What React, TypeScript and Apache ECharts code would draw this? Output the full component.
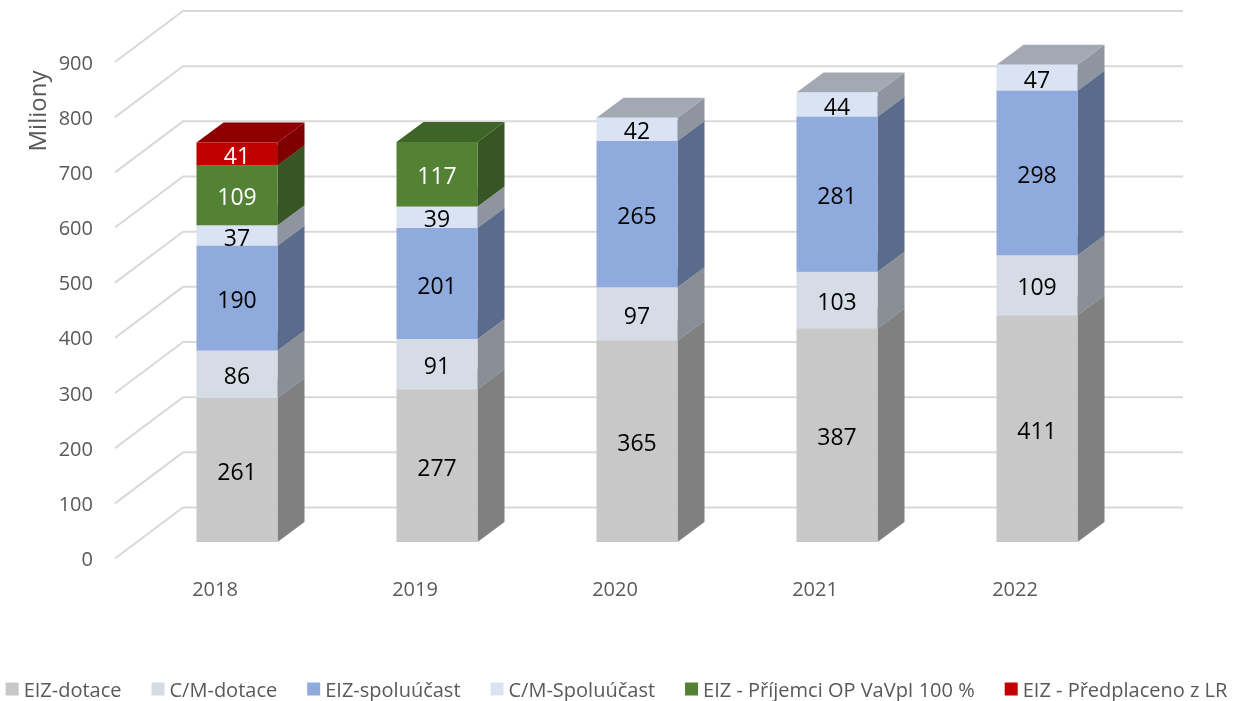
import React, { useEffect, useRef } from "react";
import * as echarts from "echarts";

const years = ["2018", "2019", "2020", "2021", "2022"];
const yTicks = [0, 100, 200, 300, 400, 500, 600, 700, 800, 900];

const seriesNames = [
  "EIZ-dotace",
  "C/M-dotace",
  "EIZ-spoluúčast",
  "C/M-Spoluúčast",
  "EIZ - Příjemci OP VaVpI 100 %",
  "EIZ - Předplaceno z LR",
];

const eizDotace = [261, 277, 365, 387, 411];
const cmDotace = [86, 91, 97, 103, 109];
const eizSpoluucast = [190, 201, 265, 281, 298];
const cmSpoluucast = [37, 39, 42, 44, 47];
const eizPrijemci = [109, 117, null, null, null];
const eizPredplaceno = [41, null, null, null, null];

const seriesValues = [eizDotace, cmDotace, eizSpoluucast, cmSpoluucast, eizPrijemci, eizPredplaceno];

const frontColors = ["#C8C8C8", "#D6DCE5", "#8FAADC", "#DAE3F3", "#548235", "#C00000"];
const sideColors = ["#808080", "#8A8F97", "#5B6B8C", "#8E959F", "#375623", "#7E0000"];
const topColors = ["#A0A0A0", "#ABB0B8", "#7388B0", "#A3A9B2", "#3F6428", "#8E0000"];
const labelColors = ["#000", "#000", "#000", "#000", "#fff", "#fff"];

const FONT = "'Open Sans', 'Noto Sans', sans-serif";
const BAR_W = 81;
const FRONT_DX = 22;
const FRONT_DY = -16.5;
const DEPTH_DX = 27;
const DEPTH_DY = -20;
const WALL_DX = 68;
const WALL_DY = -51;

export default function App() {
  const ref = useRef<HTMLDivElement>(null);
  useEffect(() => {
    if (!ref.current) return;
    const chart = echarts.init(ref.current, undefined, { renderer: "svg" });

    const barSeries = seriesNames.map((name, si) => {
      const data: any[] = [];
      years.forEach((_, ci) => {
        const v = seriesValues[si][ci];
        if (v == null) return;
        let base = 0;
        for (let k = 0; k < si; k++) base += (seriesValues[k][ci] as number) || 0;
        data.push([ci, base, v]);
      });
      return {
        type: "custom",
        name,
        coordinateSystem: "cartesian2d",
        itemStyle: { color: frontColors[si] },
        z: 10 + si,
        encode: { x: 0, y: [1, 2] },
        data,
        renderItem: (params: any, api: any) => {
          const c = api.value(0);
          const base = api.value(1);
          const v = api.value(2);
          const pb = api.coord([c, base]);
          const pt = api.coord([c, base + v]);
          const x0 = pb[0] + FRONT_DX - BAR_W / 2;
          const x1 = x0 + BAR_W;
          const yb = pb[1] + FRONT_DY;
          const yt = pt[1] + FRONT_DY;
          return {
            type: "group",
            children: [
              {
                type: "polygon",
                shape: {
                  points: [
                    [x1, yb],
                    [x1 + DEPTH_DX, yb + DEPTH_DY],
                    [x1 + DEPTH_DX, yt + DEPTH_DY],
                    [x1, yt],
                  ],
                },
                style: { fill: sideColors[si] },
              },
              {
                type: "polygon",
                shape: {
                  points: [
                    [x0, yt],
                    [x1, yt],
                    [x1 + DEPTH_DX, yt + DEPTH_DY],
                    [x0 + DEPTH_DX, yt + DEPTH_DY],
                  ],
                },
                style: { fill: topColors[si] },
              },
              {
                type: "rect",
                shape: { x: x0, y: yt, width: BAR_W, height: yb - yt },
                style: { fill: frontColors[si] },
              },
              {
                type: "text",
                x: (x0 + x1) / 2,
                y: (yt + yb) / 2 + 1,
                style: {
                  text: String(v),
                  fill: labelColors[si],
                  font: `23px ${FONT}`,
                  align: "center",
                  verticalAlign: "middle",
                },
              },
            ],
          };
        },
      };
    });

    const gridSeries = {
      type: "custom",
      name: "grid",
      coordinateSystem: "cartesian2d",
      silent: true,
      z: 1,
      data: yTicks.map((t) => [0, t]),
      encode: { x: 0, y: 1 },
      renderItem: (params: any, api: any) => {
        const y = api.coord([0, api.value(1)])[1];
        const cs = params.coordSys;
        const x = cs.x;
        return {
          type: "polyline",
          shape: {
            points: [
              [x, y],
              [x + WALL_DX, y + WALL_DY],
              [x + cs.width + WALL_DX, y + WALL_DY],
            ],
          },
          style: { stroke: "#D9D9D9", lineWidth: 2, fill: "none" },
        };
      },
    };

    chart.setOption({
      animation: false,
      grid: {
        left: 115,
        right: 118,
        top: 62,
        bottom: 142.5,
        containLabel: false,
        outerBoundsMode: "none",
      },
      xAxis: {
        type: "category",
        data: years,
        boundaryGap: true,
        axisLine: { show: false },
        axisTick: { show: false },
        axisLabel: { color: "#595959", fontSize: 20, fontFamily: FONT, margin: 20 },
      },
      yAxis: {
        type: "value",
        min: 0,
        max: 900,
        interval: 100,
        axisLine: { show: false },
        axisTick: { show: false },
        splitLine: { show: false },
        axisLabel: { color: "#595959", fontSize: 20, fontFamily: FONT, margin: 22 },
      },
      legend: {
        data: seriesNames,
        bottom: -3,
        left: "center",
        icon: "rect",
        itemWidth: 13,
        itemHeight: 13,
        itemGap: 30,
        textStyle: { color: "#595959", fontSize: 20, fontFamily: FONT },
      },
      graphic: [
        {
          type: "text",
          x: 36,
          y: 111,
          rotation: Math.PI / 2,
          style: {
            text: "Miliony",
            fill: "#595959",
            font: `24px ${FONT}`,
            align: "center",
            verticalAlign: "middle",
          },
        },
      ],
      series: [gridSeries, ...barSeries],
    });
    return () => chart.dispose();
  }, []);
  return <div ref={ref} style={{ position: "fixed", left: 0, top: 0, width: 1233, height: 701 }} />;
}
